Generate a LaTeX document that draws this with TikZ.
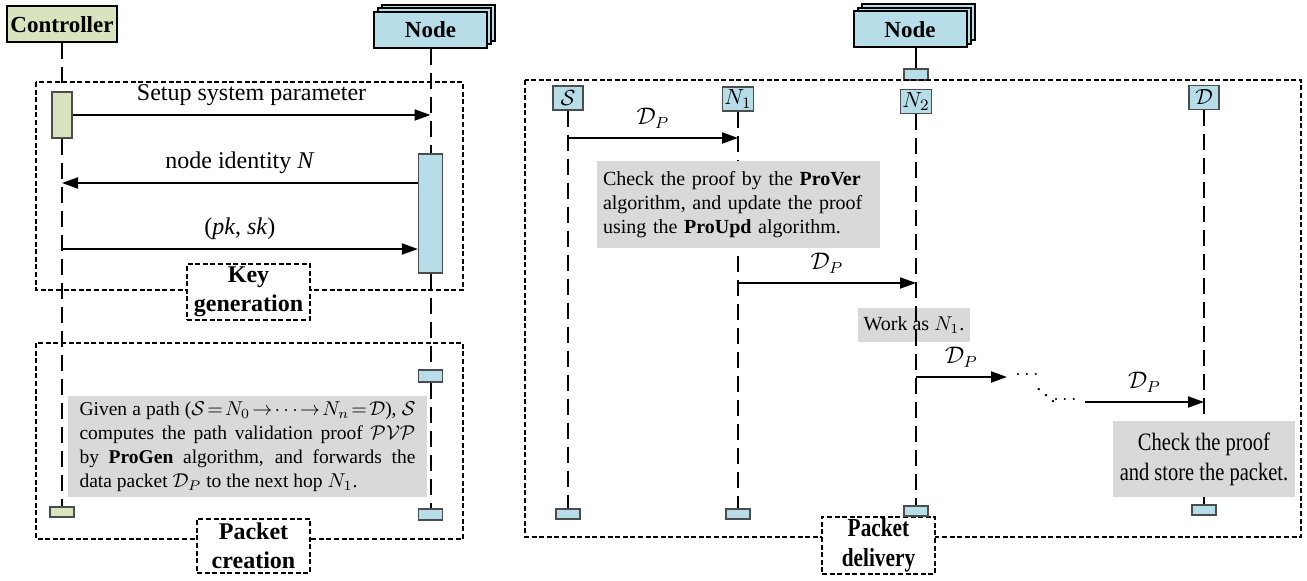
\documentclass[tikz,border=0pt]{standalone}
\usepackage{fontspec}
\setmainfont{Liberation Serif}
\newfontfamily\narrowfont{Liberation Serif}[FakeStretch=0.82]
\usetikzlibrary{arrows.meta,positioning,shadows,calc}

\definecolor{ctrlgreen}{RGB}{215,228,189}
\definecolor{nodeblue}{RGB}{182,221,232}
\definecolor{notegray}{RGB}{217,217,217}

\tikzset{
  actor/.style={draw=black,line width=1pt,inner sep=0pt,minimum height=18pt,
    font=\fontsize{11.5}{14}\selectfont\bfseries},
  ctrlbox/.style={actor,fill=ctrlgreen,minimum width=55pt},
  peerbox/.style={actor,fill=nodeblue,minimum width=56.5pt,
    double copy shadow={shadow xshift=2pt,shadow yshift=1.8pt,
      fill=nodeblue,draw=black,line width=1pt}},
  actbox/.style={draw=black!70,line width=0.6pt,inner sep=0pt,minimum width=12pt},
  rolebox/.style={draw=black!70,fill=nodeblue,line width=0.6pt,inner sep=1pt,
    minimum width=15pt,minimum height=12pt,font=\fontsize{11}{13}\selectfont},
  lifeline/.style={line width=1pt,dash pattern=on 8pt off 4pt},
  msg/.style={line width=1pt,-{Triangle[length=8pt,width=5.5pt]}},
  msglabel/.style={above=1pt,font=\fontsize{12}{14}\selectfont},
  phase/.style={line width=0.9pt,dash pattern=on 2.5pt off 1.3pt},
  phaselabel/.style={phase,draw,fill=white,align=center,inner sep=1pt,
    font=\fontsize{12}{14.5}\selectfont\bfseries},
  note/.style={fill=notegray,inner xsep=3pt,inner ysep=3pt,
    font=\fontsize{10}{12}\selectfont}
}

\begin{document}
\begin{tikzpicture}[x=0.5pt,y=-0.5pt]
\useasboundingbox (0,0) rectangle (1307,581);

% Key generation / packet creation
\node[ctrlbox] (ctrl) at (62,24.5) {Controller};
\node[peerbox] (peer) at (430.5,30) {Node};

\node[actbox,fill=ctrlgreen,minimum width=10pt,minimum height=23pt] (ctrlact) at (62,115) {};
\node[actbox,fill=nodeblue,minimum height=59.5pt] (peeract) at (430.5,213.5) {};
\node[actbox,fill=nodeblue,minimum height=6pt] (peerfwd) at (430.5,376) {};
\node[actbox,fill=ctrlgreen,minimum height=5pt] (ctrlend) at (62,512) {};
\node[actbox,fill=nodeblue,minimum height=5.5pt] (peerend) at (430.5,514.5) {};

\draw[lifeline] (ctrl) -- (ctrlact);
\draw[lifeline] (ctrlact) -- (ctrlend);
\draw[lifeline] (peer) -- (peeract);
\draw[lifeline] (peeract) -- (peerfwd);
\draw[lifeline] (peerfwd) -- (peerend);

\coordinate (idrow) at (0,183);
\coordinate (keyrow) at (0,249);
\draw[msg] (ctrlact.east) -- (ctrlact.east -| peer) node[midway,msglabel] {Setup system parameter};
\draw[msg] (peeract.west |- idrow) -- (ctrl |- idrow) node[midway,msglabel] {node identity \textit{N}};
\draw[msg] (ctrl |- keyrow) -- (peeract.west |- keyrow) node[midway,msglabel] {(\textit{pk}, \textit{sk})};

\draw[phase] (36,82) rectangle (463,290);
\node[phaselabel,minimum width=61.5pt,minimum height=28pt] (keygen) at (248.5,292) {Key\\generation};

\draw[phase] (36,343) rectangle (463,539);
\node[phaselabel,minimum width=56.5pt,minimum height=27pt] (create) at (253.5,546) {Packet\\creation};

\node[note,text width=168pt,align=justify,inner xsep=5.75pt,minimum height=50.5pt,
  font=\fontsize{9.75}{12}\selectfont] (progen) at (247.5,446.5)
  {Given a path (\mbox{$\thickmuskip=2mu\mathcal{S}=N_0\to\cdots\to N_n=\mathcal{D}$}), $\mathcal{S}$\linebreak
   computes the path validation proof $\mathcal{PVP}$\linebreak
   by \textbf{ProGen} algorithm, and forwards the\linebreak
   data packet $\mathcal{D}_P$ to the next hop $N_1$.};

% Packet delivery
\node[peerbox] (peer2) at (910,29.5) {Node};
\node[actbox,fill=nodeblue,minimum height=5.5pt] (peer2top) at (916,74.5) {};
\draw[line width=1pt] (peer2.south -| peer2top) -- (peer2top);

\draw[phase] (525,80) rectangle (1301,537);
\node[phaselabel,font=\narrowfont\bfseries\fontsize{13}{15}\selectfont,
  minimum width=56.5pt,minimum height=27.5pt] (deliver) at (878.5,545.5) {Packet\\delivery};

\node[rolebox] (src) at (568,98) {$\mathcal{S}$};
\node[rolebox] (hop1) at (738,99) {$N_1$};
\node[rolebox] (hop2) at (916,101.5) {$N_2$};
\node[rolebox] (dst) at (1204,97.5) {$\mathcal{D}$};

\node[actbox,fill=nodeblue,minimum height=5pt] (srcend) at (568,514) {};
\node[actbox,fill=nodeblue,minimum height=5pt] (hop1end) at (738,514) {};
\node[actbox,fill=nodeblue,minimum height=5pt] (hop2end) at (916,511) {};
\node[actbox,fill=nodeblue,minimum height=5pt] (dstend) at (1204,510) {};

\node[note,minimum width=56pt,minimum height=17pt,inner sep=1pt] (work) at (914,325) {Work as $N_1$.};

\draw[lifeline] (src) -- (srcend);
\draw[lifeline] (hop1) -- (hop1end);
\draw[lifeline] (hop2) -- (hop2end);
\draw[lifeline] (dst) -- (dstend);

\node[note,text width=135.5pt,align=left,minimum height=43.5pt] (prover) at (738.5,204.5)
  {Check the proof by the \textbf{ProVer}\\ algorithm, and update the proof\\ using the \textbf{ProUpd} algorithm.};
\node[note,align=center,minimum width=91pt,minimum height=38pt,
  font=\narrowfont\fontsize{12.5}{15}\selectfont] (store) at (1204,459) {Check the proof\\and store the packet.};

\coordinate (row1) at (0,138);
\coordinate (row2) at (0,283);
\coordinate (gap1) at (1007,377);
\coordinate (gap2) at (1085,402);
\draw[msg] (src |- row1) -- (hop1 |- row1) node[midway,msglabel] {$\mathcal{D}_P$};
\draw[msg] (hop1 |- row2) -- (hop2 |- row2) node[midway,msglabel] {$\mathcal{D}_P$};
\draw[msg] (hop2 |- gap1) -- (gap1) node[midway,msglabel] {$\mathcal{D}_P$};
\draw[msg] (gap2) -- (dst |- gap2) node[midway,msglabel] {$\mathcal{D}_P$};

\node[inner sep=0pt] (dots1) at (1027,375) {$\cdots$};
\node[inner sep=0pt] (dots2) at (1046,389) {$\ddots$};
\node[inner sep=0pt] (dots3) at (1065,400) {$\cdots$};

\end{tikzpicture}
\end{document}
